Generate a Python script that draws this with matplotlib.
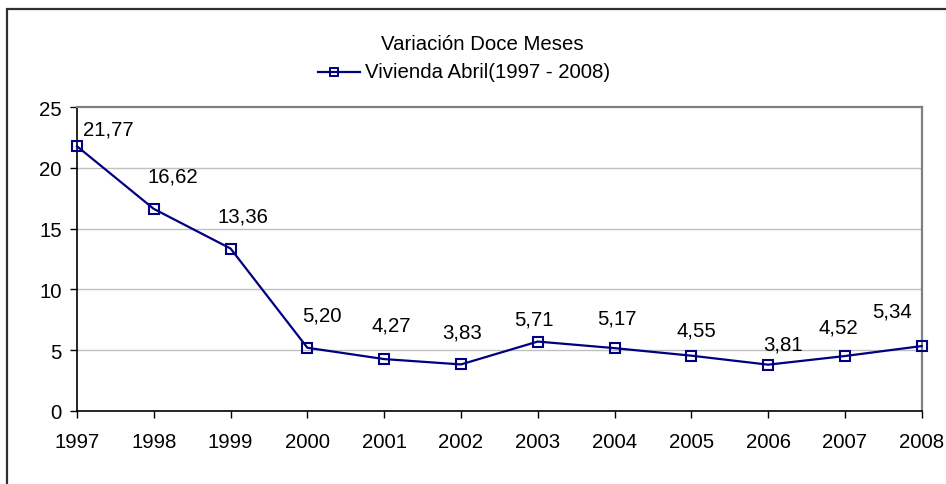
import matplotlib
matplotlib.use("Agg")
import matplotlib.pyplot as plt
from matplotlib.lines import Line2D
from matplotlib.patches import Rectangle

plt.rcParams['font.family'] = ['Liberation Sans', 'DejaVu Sans']

years = [1997, 1998, 1999, 2000, 2001, 2002, 2003, 2004, 2005, 2006, 2007, 2008]
values = [21.77, 16.62, 13.36, 5.20, 4.27, 3.83, 5.71, 5.17, 4.55, 3.81, 4.52, 5.34]
title = "Variación Doce Meses"
series_name = "Vivienda Abril(1997 - 2008)"

# where each value label sits relative to its point (pixels)
label_offsets = [(31, 17), (19, 33), (12, 33), (15, 33), (7, 34), (1, 32),
                 (-4, 23), (2, 30), (5, 26), (15, 21), (-7, 29), (-30, 35)]

W, H = 946, 485
navy = '#000080'
fs = 14.7

fig = plt.figure(figsize=(W / 100, H / 100), dpi=100)
ax = fig.add_axes([77 / W, 1 - 412 / H, (921.7 - 77) / W, (412 - 108) / H])

x = list(range(len(years)))
ax.plot(x, values, color=navy, lw=1.6, marker='s', ms=7.5, mfc='none',
        mec=navy, mew=1.5, zorder=3, clip_on=False)

for i, v in enumerate(values):
    dx, dy = label_offsets[i]
    ax.annotate(f"{v:.2f}".replace('.', ','), (x[i], v), xytext=(dx, dy),
                textcoords='offset pixels', ha='center', va='center', fontsize=fs)

ax.set_xlim(0, len(years) - 1)
ax.set_ylim(0, 25)
ax.set_xticks(x)
ax.set_xticklabels([str(y) for y in years])
ax.set_yticks([0, 5, 10, 15, 20, 25])
ax.tick_params(axis='both', direction='out', length=5, width=1, labelsize=fs, color='black')
ax.tick_params(axis='x', pad=10)
ax.tick_params(axis='y', pad=6)

for yv in [5, 10, 15, 20]:
    ax.axhline(yv, color='#c0c0c0', lw=1, zorder=1)

ax.spines['left'].set_color('black')
ax.spines['bottom'].set_color('black')
ax.spines['left'].set_linewidth(1.2)
ax.spines['bottom'].set_linewidth(1.2)
ax.spines['top'].set_color('#808080')
ax.spines['right'].set_color('#808080')
ax.spines['top'].set_linewidth(1.6)
ax.spines['right'].set_linewidth(1.6)

# title and legend
fig.text(482 / W, 1 - 44 / H, title, ha='center', va='center', fontsize=fs)
fig.add_artist(Line2D([318 / W, 360 / W], [1 - 73 / H, 1 - 73 / H], color=navy, lw=1.6,
                      transform=fig.transFigure))
fig.add_artist(Line2D([334 / W], [1 - 73 / H], marker='s', ms=6, mfc='none', mec=navy,
                      mew=1.4, transform=fig.transFigure))
fig.text(365 / W, 1 - 73 / H, series_name, ha='left', va='center', fontsize=fs)

# outer chart border
fig.add_artist(Rectangle((7 / W, -0.1), 1.2, 1 - 10 / H + 0.1, fill=False,
                         edgecolor='#303030', lw=1.6, transform=fig.transFigure))

fig.savefig('out.png', dpi=100)
